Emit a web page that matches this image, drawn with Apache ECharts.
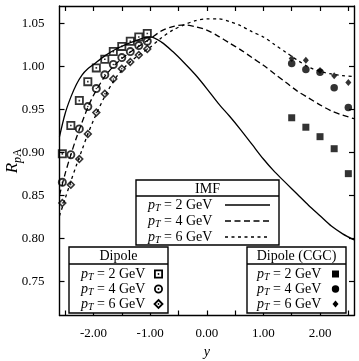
<!DOCTYPE html>
<html>
<head>
<meta charset="utf-8">
<script src="https://cdn.jsdelivr.net/npm/echarts@6/dist/echarts.min.js"></script>
<style>
  html, body { margin: 0; padding: 0; background: #fff; }
  #chart { width: 359px; height: 361px; }
</style>
</head>
<body>
<div id="chart"></div>
<script>
// IMF curves, sampled on a common rapidity grid
const imfX = [-2.6, -2.5, -2.4, -2.3, -2.2, -2.1, -2.0, -1.8, -1.6, -1.4, -1.2, -1.0, -0.8, -0.6, -0.4, -0.2,
    0.0, 0.2, 0.4, 0.6, 0.8, 1.0, 1.2, 1.4, 1.6, 1.8, 2.0, 2.2, 2.4, 2.6];
const imf2 = [0.918, 0.945, 0.964, 0.979, 0.990, 0.997, 1.002, 1.012, 1.020, 1.026, 1.031, 1.034, 1.028, 1.017, 1.004, 0.990,
    0.974, 0.957, 0.942, 0.926, 0.909, 0.892, 0.877, 0.864, 0.851, 0.838, 0.826, 0.814, 0.805, 0.798];
const imf4 = [0.850, 0.875, 0.897, 0.917, 0.935, 0.952, 0.966, 0.988, 1.003, 1.014, 1.023, 1.032, 1.041, 1.046, 1.048, 1.046,
    1.042, 1.035, 1.027, 1.019, 1.010, 1.001, 0.991, 0.981, 0.971, 0.963, 0.955, 0.948, 0.943, 0.939];
const imf6 = [0.826, 0.846, 0.866, 0.885, 0.903, 0.921, 0.937, 0.965, 0.987, 1.002, 1.013, 1.022, 1.033, 1.042, 1.048, 1.053,
    1.055, 1.055, 1.052, 1.047, 1.040, 1.034, 1.025, 1.016, 1.007, 0.999, 0.994, 0.991, 0.989, 0.988];

// Dipole points (backward rapidity)
const dipX = [-2.55, -2.4, -2.25, -2.1, -1.95, -1.8, -1.65, -1.5, -1.35, -1.2, -1.05];
const dip2 = [0.898, 0.931, 0.960, 0.982, 0.998, 1.008, 1.017, 1.023, 1.029, 1.034, 1.038];
const dip4 = [0.865, 0.897, 0.927, 0.953, 0.974, 0.990, 1.002, 1.010, 1.017, 1.024, 1.029];
const dip6 = [0.841, 0.862, 0.892, 0.921, 0.946, 0.968, 0.985, 0.997, 1.005, 1.013, 1.020];

// Dipole (CGC) points (forward rapidity)
const cgcX = [1.5, 1.75, 2.0, 2.25, 2.5];
const cgc2 = [0.940, 0.929, 0.918, 0.904, 0.875];
const cgc4 = [1.003, 0.996, 0.993, 0.975, 0.952];
const cgc6 = [1.009, 1.007, 0.995, 0.989, 0.981];

const xTicks = [-2.5, -2.0, -1.5, -1.0, -0.5, 0, 0.5, 1.0, 1.5, 2.0, 2.5];
const xLabels = [-2, -1, 0, 1, 2];
const yTicks = [0.75, 0.80, 0.85, 0.90, 0.95, 1.00, 1.05];

const serif = '"Liberation Serif", "DejaVu Serif", serif';
const pairs = (xs, ys) => xs.map((x, i) => [x, ys[i]]);

// open markers with a dot in the middle (holes via opposite winding)
const sqPath = 'M0,0 L10,0 L10,10 L0,10 Z M2,2 L2,8 L8,8 L8,2 Z M4.1,4.1 L5.9,4.1 L5.9,5.9 L4.1,5.9 Z';
const ciPath = 'M0,5 A5,5 0 1,1 10,5 A5,5 0 1,1 0,5 Z M2.1,5 A2.9,2.9 0 1,0 7.9,5 A2.9,2.9 0 1,0 2.1,5 Z M4.1,5 A0.9,0.9 0 1,1 5.9,5 A0.9,0.9 0 1,1 4.1,5 Z';
const diPath = 'M5,0 L10,5 L5,10 L0,5 Z M5,2.5 L2.5,5 L5,7.5 L7.5,5 Z M5,4 L6,5 L5,6 L4,5 Z';

const axisCommon = {
    type: 'value',
    axisLine: { show: true, onZero: false, lineStyle: { color: '#000', width: 1.4 } },
    splitLine: { show: false },
    nameMoveOverlap: false
};

function xAxisDef(pos, labels) {
    return Object.assign({}, axisCommon, {
        position: pos, min: -2.6, max: 2.6,
        axisTick: { show: true, inside: true, length: 5, customValues: xTicks, lineStyle: { color: '#000', width: 1.2 } },
        axisLabel: {
            show: labels, customValues: xLabels, margin: 12,
            formatter: v => v.toFixed(2),
            color: '#000', fontFamily: serif, fontSize: 13
        },
        name: labels ? 'y' : '',
        nameLocation: 'middle', nameGap: 30,
        nameTextStyle: { color: '#000', fontFamily: serif, fontSize: 14, fontStyle: 'italic' }
    });
}

function yAxisDef(pos, labels) {
    return Object.assign({}, axisCommon, {
        position: pos, min: 0.71, max: 1.07,
        axisTick: { show: true, inside: true, length: 5, customValues: yTicks, lineStyle: { color: '#000', width: 1.2 } },
        axisLabel: {
            show: labels, customValues: yTicks, margin: 15,
            formatter: v => v.toFixed(2),
            color: '#000', fontFamily: serif, fontSize: 13
        },
        name: labels ? '{i|R}{si|p}{s|A}' : '',
        nameLocation: 'middle', nameGap: 36, nameRotate: 90,
        nameTextStyle: {
            color: '#000',
            rich: {
                i: { fontFamily: serif, fontSize: 17, fontStyle: 'italic', color: '#000' },
                si: { fontFamily: serif, fontSize: 12, fontStyle: 'italic', color: '#000', padding: [9, 0, 0, 0] },
                s: { fontFamily: serif, fontSize: 12, color: '#000', padding: [9, 0, 0, 0] }
            }
        }
    });
}

function curve(name, ys, dash) {
    return {
        name: name, type: 'line', data: pairs(imfX, ys),
        smooth: 0.3, showSymbol: false, symbol: 'none', silent: true, z: 2,
        lineStyle: { color: '#000', width: 1.3, type: dash }
    };
}

function points(name, xs, ys, symbol, size) {
    return {
        name: name, type: 'scatter', data: pairs(xs, ys),
        symbol: symbol, symbolSize: size, silent: true, z: 3,
        itemStyle: { color: '#000' }
    };
}

// legend boxes, drawn as plain graphics
const rowRich = {
    i: { fontFamily: serif, fontSize: 14, fontStyle: 'italic', fill: '#000' },
    s: { fontFamily: serif, fontSize: 10, fontStyle: 'italic', fill: '#000', padding: [7, 0, 0, 0] },
    n: { fontFamily: serif, fontSize: 14, fill: '#000' }
};
const rowText = ['2', '4', '6'].map(p => '{i|p}{s|T}{n| = ' + p + ' GeV}');

function legendBox(left, top, right, bottom, divY, title, rowsY, textX, keys) {
    const els = [
        { type: 'rect', shape: { x: left, y: top, width: right - left, height: bottom - top },
          style: { fill: '#fff', stroke: '#000', lineWidth: 1.4 }, z: 10 },
        { type: 'line', shape: { x1: left, y1: divY, x2: right, y2: divY },
          style: { stroke: '#000', lineWidth: 1.4 }, z: 11 },
        { type: 'text', x: (left + right) / 2, y: (top + divY) / 2 + 1, z: 11,
          style: { text: title, fontFamily: serif, fontSize: 14, fill: '#000', align: 'center', verticalAlign: 'middle' } }
    ];
    rowsY.forEach((y, i) => {
        els.push({ type: 'text', x: textX, y: y, z: 11,
            style: { text: rowText[i], rich: rowRich, align: 'left', verticalAlign: 'middle' } });
        keys(i, y).forEach(e => els.push(e));
    });
    return els;
}

const dashes = [null, [6, 3.5], [3, 3.5]];

function openKey(i, cx, cy) {
    const ring = { stroke: '#000', fill: '#fff', lineWidth: 1.8 };
    const dot = { type: 'circle', z: 12, shape: { cx: cx, cy: cy, r: 0.9 }, style: { fill: '#000' } };
    if (i === 0) return [{ type: 'rect', z: 11, shape: { x: cx - 3.6, y: cy - 3.6, width: 7.2, height: 7.2 }, style: ring }, dot];
    if (i === 1) return [{ type: 'circle', z: 11, shape: { cx: cx, cy: cy, r: 3.6 }, style: ring }, dot];
    return [{ type: 'polygon', z: 11, shape: { points: [[cx, cy - 4], [cx + 4, cy], [cx, cy + 4], [cx - 4, cy]] }, style: ring }, dot];
}

function filledKey(i, cx, cy) {
    if (i === 0) return [{ type: 'rect', z: 11, shape: { x: cx - 3.5, y: cy - 3.5, width: 7, height: 7 }, style: { fill: '#000' } }];
    if (i === 1) return [{ type: 'circle', z: 11, shape: { cx: cx, cy: cy, r: 3.7 }, style: { fill: '#000' } }];
    return [{ type: 'polygon', z: 11, shape: { points: [[cx, cy - 3.5], [cx + 3, cy], [cx, cy + 3.5], [cx - 3, cy]] }, style: { fill: '#000' } }];
}

const graphics = [].concat(
    legendBox(136, 180, 279, 245, 196, 'IMF', [205, 221, 237], 148, (i, y) => [{
        type: 'line', shape: { x1: 225, y1: y, x2: 270, y2: y }, z: 11,
        style: { stroke: '#000', lineWidth: 1.3, lineDash: dashes[i] }
    }]),
    legendBox(69, 247, 168, 313, 264, 'Dipole', [274, 289, 304], 81, (i, y) => openKey(i, 158.5, y)),
    legendBox(247, 247, 346, 313, 264, 'Dipole (CGC)', [274, 289, 304], 257, (i, y) => filledKey(i, 335.5, y))
);

const chart = echarts.init(document.getElementById('chart'), null, { renderer: 'canvas' });
chart.setOption({
    animation: false,
    backgroundColor: '#fff',
    grid: { left: 59.5, right: 5, top: 6, bottom: 45.5, show: false, containLabel: false, outerBoundsMode: 'none' },
    xAxis: [xAxisDef('bottom', true), xAxisDef('top', false)],
    yAxis: [yAxisDef('left', true), yAxisDef('right', false)],
    series: [
        curve('IMF 2', imf2, 'solid'),
        curve('IMF 4', imf4, [6, 3.5]),
        curve('IMF 6', imf6, [3, 3.5]),
        points('Dipole 2', dipX, dip2, 'path://' + sqPath, 9),
        points('Dipole 4', dipX, dip4, 'path://' + ciPath, 9),
        points('Dipole 6', dipX, dip6, 'path://' + diPath, 9),
        points('CGC 2', cgcX, cgc2, 'rect', 7),
        points('CGC 4', cgcX, cgc4, 'circle', 7.5),
        points('CGC 6', cgcX, cgc6, 'diamond', [6, 7])
    ],
    graphic: graphics
});
</script>
</body>
</html>
